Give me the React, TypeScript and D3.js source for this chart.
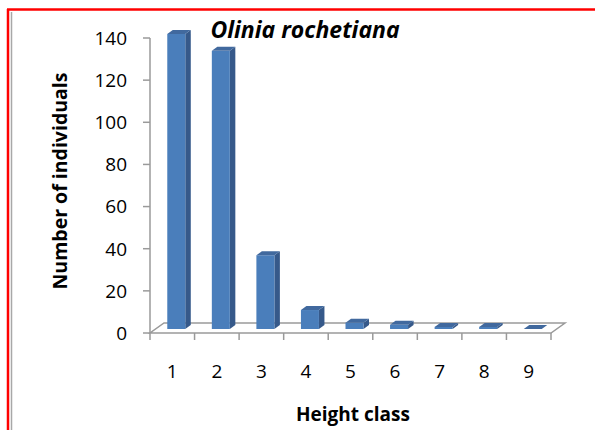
import * as React from 'react';
import * as d3 from 'd3';

const classes = ['1', '2', '3', '4', '5', '6', '7', '8', '9'];
const counts = [140, 132, 35, 9, 3, 2, 1, 1, 0];
const yTicks = [0, 20, 40, 60, 80, 100, 120, 140];

const W = 595;
const H = 430;
const font = '"Open Sans", sans-serif';

export default function App() {
  const x = d3.scaleBand<string>().domain(classes).range([150, 551]);
  const y = d3.scaleLinear().domain([0, 140]).range([333, 38]);
  const bw = x.bandwidth();

  // depth of the floor and of a bar
  const fdx = 14, fdy = -10;
  const shift = 4, lift = 4;
  const barW = 18, sdx = 5.5, sdy = -4;

  const axisColor = '#9a9a9a';

  return (
    <svg width={W} height={H} style={{position: 'absolute', left: 0, top: 0}}>
      <rect x={0} y={0} width={W} height={H} fill="#fff" />
      {/* frame */}
      <line x1={7} y1={9.5} x2={W} y2={9.5} stroke="#ff0000" strokeWidth={2.5} />
      <line x1={8} y1={9} x2={8} y2={H} stroke="#ff0000" strokeWidth={2.5} />
      <line x1={11.5} y1={12} x2={11.5} y2={H} stroke="#a8a8a8" strokeWidth={1.5} />

      {/* floor */}
      <path
        d={`M${x.range()[0]},${y(0)} L${x.range()[1]},${y(0)} L${x.range()[1] + fdx},${y(0) + fdy} L${x.range()[0] + fdx},${y(0) + fdy} Z`}
        fill="#fff" stroke={axisColor} strokeWidth={1.5} />

      {/* y axis */}
      <line x1={150} y1={y(0)} x2={150} y2={y(140)} stroke={axisColor} strokeWidth={1.5} />
      {yTicks.map(t => (
        <g key={t}>
          <line x1={143} x2={150} y1={y(t)} y2={y(t)} stroke={axisColor} strokeWidth={1.5} />
          <text x={127} y={y(t)} dy="0.36em" textAnchor="end" fontFamily={font} fontSize={19} fill="#000">{t}</text>
        </g>
      ))}

      {/* x ticks */}
      {[...classes.map(c => x(c) as number), x.range()[1]].map((tx, i) => (
        <line key={i} x1={tx} x2={tx} y1={y(0)} y2={y(0) + 7} stroke={axisColor} strokeWidth={1.5} />
      ))}
      {classes.map(c => (
        <text key={c} x={(x(c) as number) + bw / 2} y={378} textAnchor="middle" fontFamily={font} fontSize={19} fill="#000">{c}</text>
      ))}

      {/* bars */}
      {classes.map((c, i) => {
        const x0 = (x(c) as number) + bw / 2 - barW / 2 + shift;
        const x1 = x0 + barW;
        const yb = y(0) - lift;
        const yt = y(counts[i]) - lift;
        return (
          <g key={c}>
            <path d={`M${x1},${yb} L${x1 + sdx},${yb + sdy} L${x1 + sdx},${yt + sdy} L${x1},${yt} Z`} fill="#36598a" />
            {counts[i] > 0 && <rect x={x0} y={yt} width={barW} height={yb - yt} fill="#4a7ebb" />}
            <path d={`M${x0},${yt} L${x1},${yt} L${x1 + sdx},${yt + sdy} L${x0 + sdx},${yt + sdy} Z`} fill="#41699e" />
          </g>
        );
      })}

      {/* titles */}
      <text x={305} y={38} textAnchor="middle" fontFamily={font} fontSize={23} fontWeight="bold" fontStyle="italic" fill="#000">Olinia rochetiana</text>
      <text transform="translate(67,181) rotate(-90)" textAnchor="middle" fontFamily={font} fontSize={19.5} fontWeight="bold" fill="#000">Number of individuals</text>
      <text x={353} y={421} textAnchor="middle" fontFamily={font} fontSize={19} fontWeight="bold" fill="#000">Height class</text>
    </svg>
  );
}
